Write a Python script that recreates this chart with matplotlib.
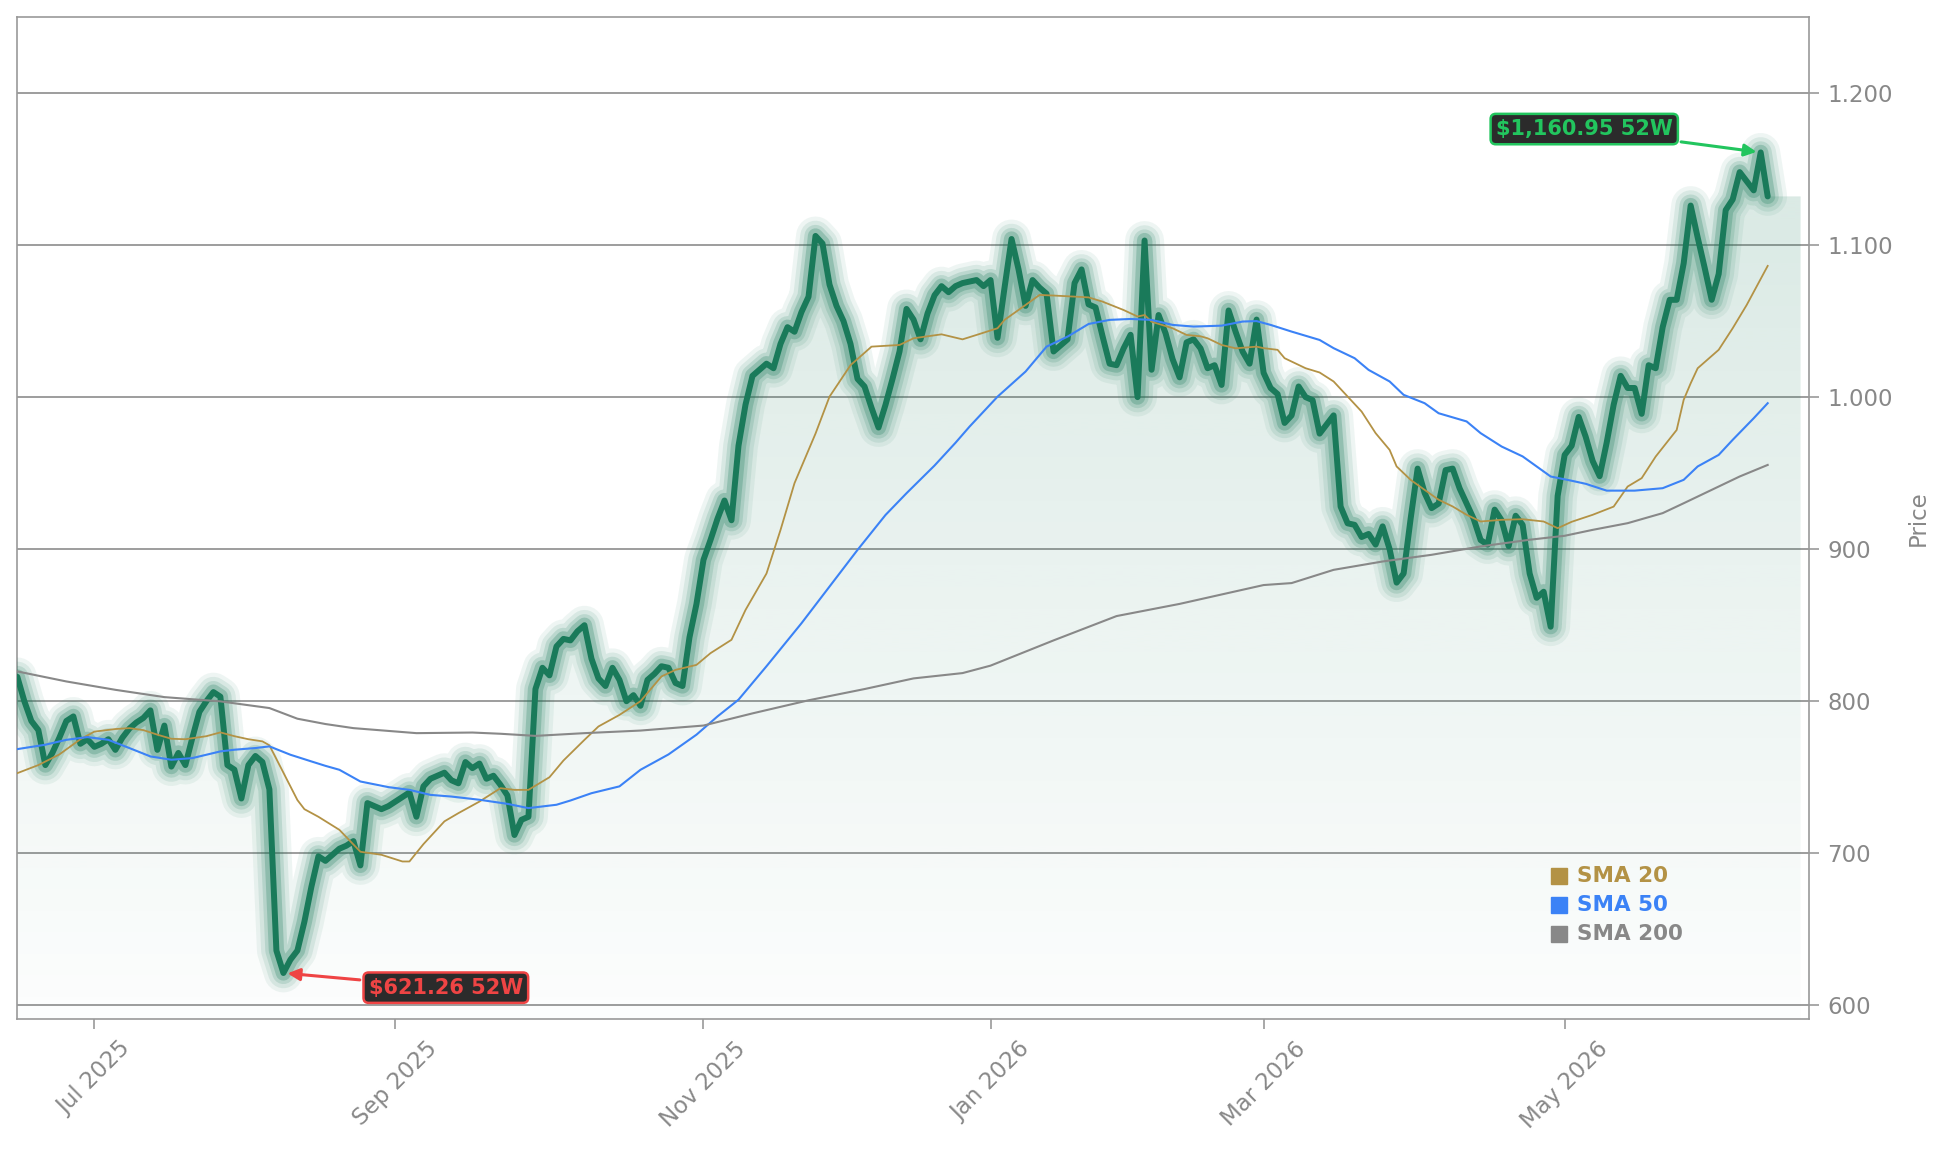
import numpy as np
import pandas as pd
import matplotlib
matplotlib.use("Agg")
import matplotlib.pyplot as plt
from matplotlib.ticker import FuncFormatter, FixedLocator

# ---------------- data ----------------
start_date = "2025-06-13"
market_holidays = ["2025-06-19", "2025-07-04", "2025-09-01", "2025-11-27", "2025-12-25",
                   "2026-01-01", "2026-01-19", "2026-02-16", "2026-04-03", "2026-05-25"]

price = [
    816, 800, 787, 781, 758, 766, 776, 787, 790, 772,
    775, 770, 772, 775, 768, 776, 782, 786, 789, 794,
    768, 784, 757, 766, 758, 776, 793, 800, 806, 803,
    758, 755, 736, 758, 764, 760, 742, 636, 621.26, 630,
    636, 655, 678, 698, 695, 699, 703, 705, 708, 692,
    733, 731, 729, 731, 734, 737, 740, 724, 744, 749,
    751, 753, 748, 746, 760, 756, 759, 749, 751, 745,
    738, 712, 722, 724, 808, 822, 817, 836, 841, 840,
    846, 850, 828, 815, 810, 822, 814, 800, 804, 797,
    814, 818, 823, 822, 812, 810, 842, 864, 893, 906,
    920, 932, 919, 968, 995, 1014, 1018, 1022, 1019, 1035,
    1046, 1043, 1056, 1066, 1106, 1101, 1074, 1060, 1050, 1035,
    1012, 1007, 993, 980, 995, 1012, 1030, 1058, 1051, 1038,
    1055, 1067, 1073, 1069, 1073, 1075, 1076, 1077, 1073, 1077,
    1039, 1072, 1104, 1084, 1060, 1077, 1072, 1068, 1030, 1034,
    1038, 1075, 1084, 1061, 1059, 1040, 1022, 1021, 1032, 1041,
    1000, 1103, 1018, 1054, 1042, 1025, 1013, 1036, 1038, 1032,
    1019, 1021, 1008, 1057, 1043, 1030, 1022, 1051, 1016, 1006,
    1002, 983, 988, 1007, 1000, 998, 976, 982, 988, 928,
    917, 916, 908, 910, 903, 915, 900, 878, 884, 920,
    953, 937, 927, 930, 952, 953, 940, 930, 920, 906,
    903, 926, 919, 902, 922, 916, 884, 868, 872, 849,
    935, 962, 968, 987, 974, 958, 948, 970, 995, 1014,
    1006, 1006, 989, 1021, 1019, 1046, 1064, 1064, 1088, 1126,
    1105, 1085, 1064, 1081, 1123, 1130, 1148, 1142, 1136, 1160.95,
    1132,
]

# moving averages (trading-day index, value)
sma20_idx = [0, 3, 6, 9, 11, 14, 16, 18, 20, 22, 24, 27, 29, 31, 33, 35, 36, 38, 40, 41,
             43, 46, 49, 52, 55, 56, 58, 61, 63, 66, 69, 71, 73, 76, 78, 81, 83, 86, 89, 92,
             94, 97, 99, 102, 104, 107, 109, 111, 114, 116, 119, 122, 126, 128, 132, 135, 137, 140, 141, 144,
             146, 148, 151, 153, 155, 158, 160, 161, 162, 165, 167, 169, 170, 172, 174, 177, 178, 180, 181, 184,
             186, 188, 190, 192, 194, 196, 197, 199, 201, 203, 205, 207, 209, 212, 215, 218, 220, 222, 225, 228,
             230, 232, 234, 237, 238, 239, 240, 243, 245, 247, 250]
sma20_val = [752.7, 758, 765, 775, 780, 781.7, 782.3, 781, 778, 775.3, 775, 777, 779.5, 777, 775, 773.6, 771, 753, 735, 729,
             724, 715.4, 701, 699, 694.6, 694.6, 706, 721, 726.4, 734, 742.8, 741.7, 741.7, 750, 761, 774.6, 783.4, 791, 800, 816.3,
             820.6, 823.9, 831.6, 840.4, 860, 884, 912.6, 943.4, 976, 1000.3, 1021, 1033.2, 1034.3, 1038.7, 1041.3, 1038, 1040.9, 1045.3, 1050.8, 1060.6,
             1067.2, 1066.8, 1066.1, 1065.6, 1062.8, 1057.3, 1053, 1054, 1049.6, 1045.3, 1040.9, 1040, 1038.7, 1034.3, 1032.1, 1033.2, 1032.2, 1031.1, 1025.6, 1019,
             1016.2, 1010.3, 1000.4, 990.5, 976.3, 965.3, 954.4, 945.6, 939, 932.5, 928.1, 922.6, 918.2, 919.3, 919.7, 918.2, 913.8, 918, 922.6, 928,
             941.2, 946.7, 960.9, 978.4, 998.2, 1009.1, 1019, 1031.1, 1045.3, 1060.6, 1086.3]

sma50_idx = [0, 4, 7, 10, 13, 16, 19, 22, 25, 29, 31, 34, 36, 39, 42, 44, 46, 49, 53, 56,
             59, 62, 66, 70, 73, 77, 79, 82, 86, 89, 93, 97, 100, 103, 107, 112, 116, 120, 124, 127,
             131, 134, 136, 140, 144, 147, 150, 153, 156, 159, 162, 165, 168, 172, 175, 177, 179, 182, 186, 188,
             191, 193, 196, 198, 201, 203, 207, 209, 212, 215, 217, 219, 222, 224, 227, 231, 235, 238, 240, 243,
             245, 248, 250]
sma50_val = [768.5, 771.4, 774.6, 776.4, 774.6, 769.2, 763.7, 761.5, 762.6, 767, 768.1, 769.2, 770.3, 764.8, 760.4, 757.5, 754.9, 747.2, 743.5, 741.7,
             738.4, 737.3, 735.2, 732.5, 729.7, 731.9, 734.7, 739.5, 744, 754.9, 765, 778, 790, 801, 823, 851.3, 875.4, 899.5, 922.5, 936.8,
             955, 970, 980.6, 1000.3, 1016.8, 1033.2, 1039.8, 1048.1, 1050.8, 1051.4, 1050.8, 1047.5, 1046.4, 1047, 1049.7, 1050, 1047.5, 1043.1, 1037.6, 1032.2,
             1025.6, 1017.9, 1010.3, 1001.5, 996, 989.4, 984, 976.3, 967.5, 961, 954.4, 947.8, 945, 943, 938.5, 938.5, 940.1, 945.6, 954.4, 962,
             971.9, 986.1, 996]

sma200_idx = [0, 7, 14, 21, 29, 36, 40, 44, 48, 57, 65, 69, 74, 81, 89, 98, 105, 113, 121, 128,
              135, 139, 148, 157, 166, 178, 182, 188, 195, 202, 209, 216, 221, 225, 230, 235, 238, 242, 246, 250]
sma200_val = [819.6, 813, 807.5, 802.7, 799.9, 795.5, 788.5, 785, 782.3, 779, 779.4, 778.6, 777.2, 779, 780.7, 784, 792, 800.6, 808, 815,
              818.5, 823.4, 840, 856, 864, 876.4, 877.7, 886.4, 891.9, 896.3, 901.8, 906.2, 908.8, 912.7, 917.1, 923.7, 930.2, 939, 947.8, 955.4]

sma_labels = ["SMA 20", "SMA 50", "SMA 200"]
sma_colors = ["#b39245", "#3b82f6", "#888888"]
tick_months = [1, 3, 5, 7, 9, 11]

# ---------------- figure ----------------
n = len(price)
dates = pd.bdate_range(start=start_date, periods=n, freq="C", holidays=market_holidays)
x = np.arange(n)
p = np.array(price, dtype=float)

Y0, Y1 = 591, 1250
X0, X1 = -0.05, n - 1 + 5.9

fig = plt.figure(figsize=(19.44, 11.53), dpi=100)
ax = fig.add_axes([17 / 1944, 134 / 1153, 1792 / 1944, 1002 / 1153])
ax.set_facecolor("white")

line_green = "#1a7a5a"

# gradient fill under price
x_fill = np.append(x, n - 1 + 4.7)
y_fill = np.append(p, p[-1])
poly = ax.fill_between(x_fill, y_fill, Y0, color="none", lw=0)
top = 1165
grad = np.zeros((256, 1, 4))
rgb = matplotlib.colors.to_rgb(line_green)
grad[:, 0, 0] = rgb[0]
grad[:, 0, 1] = rgb[1]
grad[:, 0, 2] = rgb[2]
grad[:, 0, 3] = np.linspace(0.012, 0.17, 256)
im = ax.imshow(grad, extent=[X0, X1, Y0, top], origin="lower", aspect="auto", zorder=1,
               interpolation="bilinear")
im.set_clip_path(poly.get_paths()[0], transform=ax.transData)

# glow layers + main line
for lw, a in [(28, 0.07), (22, 0.1), (16, 0.15), (11, 0.25)]:
    ax.plot(x, p, color=line_green, lw=lw, alpha=a, solid_joinstyle="round",
            solid_capstyle="round", zorder=3)
ax.plot(x, p, color=line_green, lw=4.3, solid_joinstyle="round", solid_capstyle="round", zorder=4)

# moving averages
ax.plot(sma20_idx, sma20_val, color=sma_colors[0], lw=1.3, zorder=5)
ax.plot(sma50_idx, sma50_val, color=sma_colors[1], lw=1.5, zorder=5)
ax.plot(sma200_idx, sma200_val, color=sma_colors[2], lw=1.5, zorder=5)

# axes styling
ax.set_xlim(X0, X1)
ax.set_ylim(Y0, Y1)
ax.yaxis.tick_right()
ax.yaxis.set_label_position("right")
ax.set_yticks([600, 700, 800, 900, 1000, 1100, 1200])
ax.yaxis.set_major_formatter(FuncFormatter(lambda v, _: f"{v:,.0f}".replace(",", ".")))
ax.yaxis.grid(True, color="#8c8c8c", lw=1.2)
ax.set_axisbelow(True)

tick_idx = [i for i in range(1, n) if dates[i].month != dates[i - 1].month and dates[i].month in tick_months]
ax.xaxis.set_major_locator(FixedLocator(tick_idx))
ax.set_xticklabels([dates[i].strftime("%b %Y") for i in tick_idx], rotation=45, ha="center")

for s in ax.spines.values():
    s.set_color("#999999")
    s.set_linewidth(1.2)
ax.tick_params(axis="both", colors="#999999", labelcolor="#888888", labelsize=16.5, length=7, width=1.2, pad=6)
ax.set_ylabel("Price", fontsize=16.5, color="#888888", labelpad=10)

# 52-week annotations
hi_i = int(np.argmax(p)); hi = p[hi_i]
lo_i = int(np.argmin(p)); lo = p[lo_i]
ax.annotate(f"${hi:,.2f} 52W", xy=(hi_i, hi), xytext=(223.8, 1176.3), ha="center", va="center",
            fontsize=15, fontweight="bold", color="#22c55e", zorder=8,
            bbox=dict(boxstyle="round,pad=0.25", fc="#2b2b2b", ec="#22c55e", lw=1.8),
            arrowprops=dict(arrowstyle="-|>", color="#22c55e", lw=2.2, mutation_scale=18,
                            shrinkA=2, shrinkB=3))
ax.annotate(f"${lo:,.2f} 52W", xy=(lo_i, lo), xytext=(61.2, 611.6), ha="center", va="center",
            fontsize=15, fontweight="bold", color="#ef4444", zorder=8,
            bbox=dict(boxstyle="round,pad=0.25", fc="#2b2b2b", ec="#ef4444", lw=1.8),
            arrowprops=dict(arrowstyle="-|>", color="#ef4444", lw=2.2, mutation_scale=18,
                            shrinkA=2, shrinkB=3))

# legend
for k, (lab, col) in enumerate(zip(sma_labels, sma_colors)):
    yy = 0.1427 - k * 0.0290
    ax.plot([0.8604], [yy], marker="s", ms=11.5, color=col, ls="", transform=ax.transAxes,
            clip_on=False, zorder=9)
    ax.text(0.8705, yy, lab, transform=ax.transAxes, color=col, fontsize=15.5,
            fontweight="bold", va="center", ha="left", zorder=9)

fig.savefig("out.png", dpi=100, facecolor="white")
